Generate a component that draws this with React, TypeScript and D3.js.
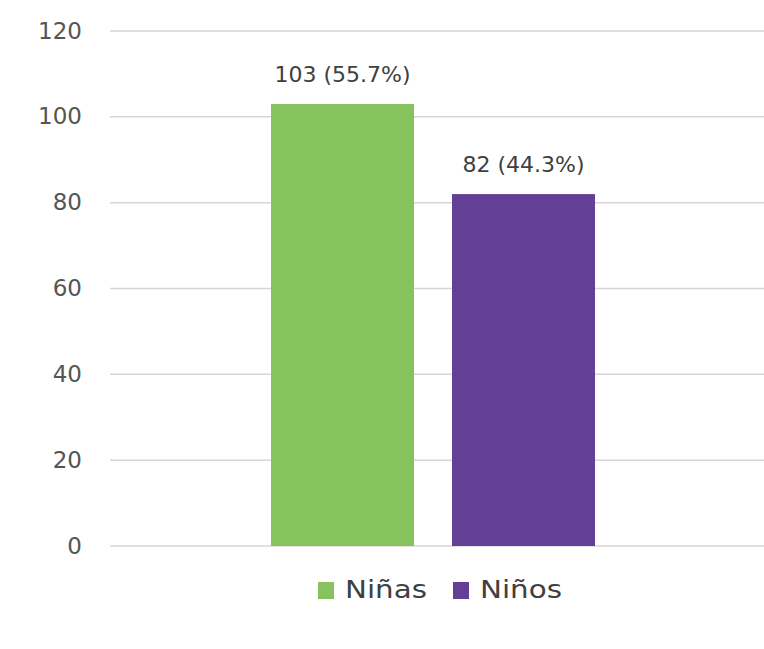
import React from "react";
import * as d3 from "d3";

const categories = ["Total"];
const seriesNames = ["Niñas", "Niños"];
const seriesValues = [103, 82];
const seriesLabels = ["103 (55.7%)", "82 (44.3%)"];
const seriesColors = ["#86c35e", "#634096"];
const yTicks = [0, 20, 40, 60, 80, 100, 120];

export default function App() {
  const W = 764, H = 649;
  const y = d3.scaleLinear().domain([0, 120]).range([546, 31]);
  const x0 = d3.scaleBand().domain(categories).range([104, 762]).paddingInner(0).paddingOuter(0.5154);
  const inner = d3.scaleBand().domain(seriesNames).range([0, x0.bandwidth()]).paddingInner(0.21);
  const font = "'DejaVu Sans', Verdana, sans-serif";
  const legendX = d3.scalePoint().domain(seriesNames).range([318, 453]);
  return (
    <svg width={W} height={H} style={{ position: "absolute", left: 0, top: 0, background: "#fff" }}>
      {yTicks.map((t) => (
        <g key={t}>
          <line x1={110} x2={764} y1={y(t)} y2={y(t)} stroke="#dcd4d1" strokeWidth={1.5} />
          <text x={82} y={y(t)} dy="0.33em" textAnchor="end" fontFamily={font} fontSize={23} fill="#555">{t}</text>
        </g>
      ))}
      {categories.map((c) => (
        <g key={c} transform={`translate(${x0(c)},0)`}>
          {seriesNames.map((s, i) => {
            const bx = inner(s)!;
            const v = seriesValues[i];
            return (
              <g key={s}>
                <rect x={bx} y={y(v)} width={inner.bandwidth()} height={y(0) - y(v)} fill={seriesColors[i]} />
                <text x={bx + inner.bandwidth() / 2} y={y(v) - 22} textAnchor="middle" fontFamily={font} fontSize={22} fill="#404040">{seriesLabels[i]}</text>
              </g>
            );
          })}
        </g>
      ))}
      {seriesNames.map((s, i) => {
        const lx = legendX(s)!;
        return (
          <g key={s}>
            <rect x={lx} y={582} width={16} height={17} fill={seriesColors[i]} />
            <text x={lx + 27} y={598} fontFamily={font} fontSize={25} fill="#404040" textLength={82} lengthAdjust="spacingAndGlyphs">{s}</text>
          </g>
        );
      })}
    </svg>
  );
}
